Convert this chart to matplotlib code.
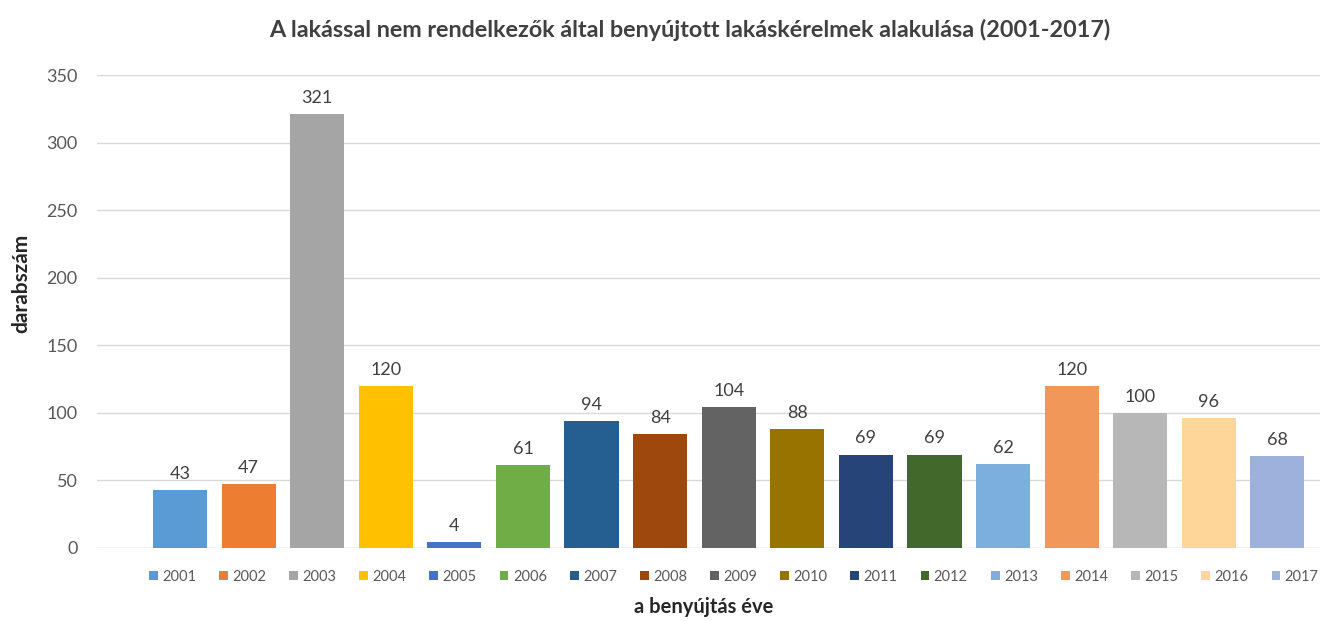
import matplotlib.pyplot as plt
from matplotlib.patches import Patch

plt.rcParams['font.family'] = ['Lato', 'DejaVu Sans']

evek = ["2001", "2002", "2003", "2004", "2005", "2006", "2007", "2008", "2009",
        "2010", "2011", "2012", "2013", "2014", "2015", "2016", "2017"]
kerelmek = [43, 47, 321, 120, 4, 61, 94, 84, 104, 88, 69, 69, 62, 120, 100, 96, 68]
szinek = ["#5B9BD5", "#ED7D31", "#A5A5A5", "#FFC000", "#4472C4", "#70AD47",
          "#255E91", "#9E480E", "#636363", "#997300", "#264478", "#43682B",
          "#7CAFDD", "#F1975A", "#B7B7B7", "#FFD699", "#9DB1DC"]

fig = plt.figure(figsize=(13.22, 6.21), dpi=100)
ax = fig.add_axes([0.0734, 0.118, 0.925, 0.761])

x = list(range(len(evek)))
ax.bar(x, kerelmek, width=0.79, color=szinek, zorder=3)

# adatfeliratok
for i, v in enumerate(kerelmek):
    ax.text(i, v + 6, str(v), ha="center", va="bottom", fontsize=13, color="#404040")

ax.set_ylim(0, 350)
ax.set_xlim(-1.21, 16.62)
ax.set_yticks(range(0, 351, 50))
ax.set_xticks([])
ax.tick_params(axis="y", length=0, labelsize=13, labelcolor="#595959", pad=14)
ax.grid(axis="y", color="#D9D9D9", linewidth=1, zorder=0)
for s in ax.spines.values():
    s.set_visible(False)
ax.axhline(0, color="#D9D9D9", linewidth=1, zorder=1)

fig.text(0.522, 0.952, "A lakással nem rendelkezők által benyújtott lakáskérelmek alakulása (2001-2017)",
         ha="center", va="center", fontsize=16.8, fontweight="bold", color="#404040")
fig.text(0.016, 0.544, "darabszám", rotation=90, ha="center", va="center",
         fontsize=15, fontweight="bold", color="#262626")
fig.text(0.532, 0.023, "a benyújtás éve", ha="center", va="center",
         fontsize=14.5, fontweight="bold", color="#262626")

kezelok = [Patch(facecolor=c) for c in szinek]
fig.legend(kezelok, evek, loc="center", bbox_to_anchor=(0.555, 0.071), ncol=17,
           frameon=False, fontsize=10.5, handlelength=0.6, handleheight=0.6,
           handletextpad=0.3, columnspacing=1.58, labelcolor="#595959")

fig.savefig("out.png", dpi=100)
